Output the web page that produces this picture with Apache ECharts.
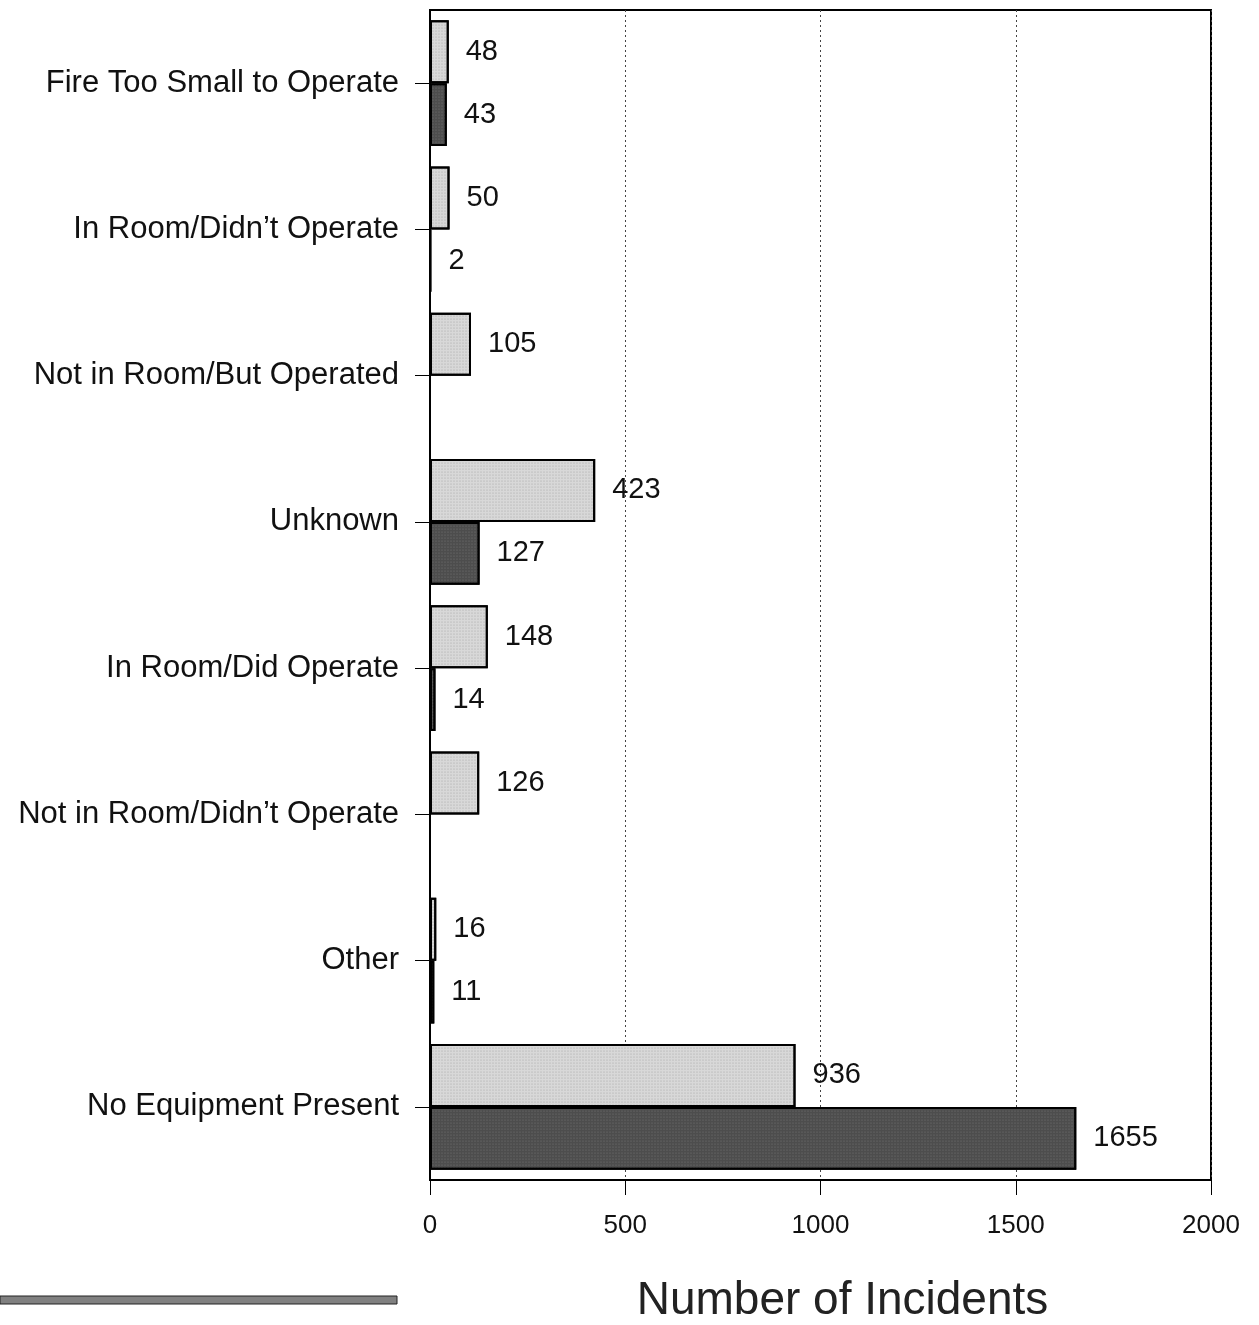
<!DOCTYPE html>
<html>
<head>
<meta charset="utf-8">
<script src="https://cdn.jsdelivr.net/npm/echarts@6/dist/echarts.min.js"></script>
<style>html,body{margin:0;padding:0;background:#fff;}#c{width:1259px;height:1325px;}</style>
</head>
<body>
<div id="c"></div>
<script>
const categories = ["Fire Too Small to Operate","In Room/Didn\u2019t Operate","Not in Room/But Operated","Unknown","In Room/Did Operate","Not in Room/Didn\u2019t Operate","Other","No Equipment Present"];
const lightValues = [48, 50, 105, 423, 148, 126, 16, 936];
const darkValues = [43, 2, null, 127, 14, null, 11, 1655];
const xTicks = [0, 500, 1000, 1500, 2000];

const chart = echarts.init(document.getElementById('c'), null, {renderer:'canvas'});
const font = '"Liberation Sans", Arial, Helvetica, sans-serif';
const labelCfg = {show:true, position:'right', distance:17, color:'#111', fontSize:29, fontFamily:font,
  formatter: p => p.value == null ? '' : String(p.value)};
chart.setOption({
  animation:false,
  backgroundColor:'#fff',
  grid:{left:430, right:48, top:10, bottom:145, show:true, borderColor:'#000', borderWidth:2, containLabel:false, outerBoundsMode:'none'},
  xAxis:{type:'value', min:xTicks[0], max:xTicks[xTicks.length-1], interval:500,
    axisLine:{show:true, lineStyle:{color:'#000', width:2}},
    axisTick:{show:true, length:15, lineStyle:{color:'#000', width:1}},
    axisLabel:{color:'#111', fontSize:26, fontFamily:font, margin:33, formatter: v => String(v)},
    splitLine:{show:true, lineStyle:{type:[2,3], color:'#444', width:1}},
    name:'Number of Incidents', nameLocation:'middle', nameGap:98,
    nameTextStyle:{fontSize:46, color:'#222', fontFamily:font, padding:[0,0,0,44]}
  },
  yAxis:{type:'category', data:categories, inverse:true,
    axisLine:{show:true, lineStyle:{color:'#000', width:2}},
    axisTick:{show:true, alignWithLabel:true, length:15, lineStyle:{color:'#000', width:1}},
    axisLabel:{color:'#111', fontSize:31, fontFamily:font, margin:31},
    splitLine:{show:false}
  },
  series:[
    {type:'bar', name:'light', data:lightValues, barGap:'0%', barCategoryGap:'14%',
      itemStyle:{color:'#d8d8d8', borderColor:'#000', borderWidth:2,
        decal:{symbol:'circle', symbolSize:0.5, color:'rgba(90,90,90,0.5)', dashArrayX:[2,1], dashArrayY:[2,1], rotation:0}},
      label:labelCfg},
    {type:'bar', name:'dark', data:darkValues, barGap:'0%', barCategoryGap:'14%',
      itemStyle:{color:'#4d4d4d', borderColor:'#000', borderWidth:2,
        decal:{symbol:'circle', symbolSize:0.6, color:'rgba(200,200,200,0.35)', dashArrayX:[2,1], dashArrayY:[2,1], rotation:0}},
      label:labelCfg}
  ],
  graphic:[{type:'rect', shape:{x:0, y:1296, width:397, height:8}, style:{fill:'#808080', stroke:'#222', lineWidth:1}}]
});
</script>
</body>
</html>
